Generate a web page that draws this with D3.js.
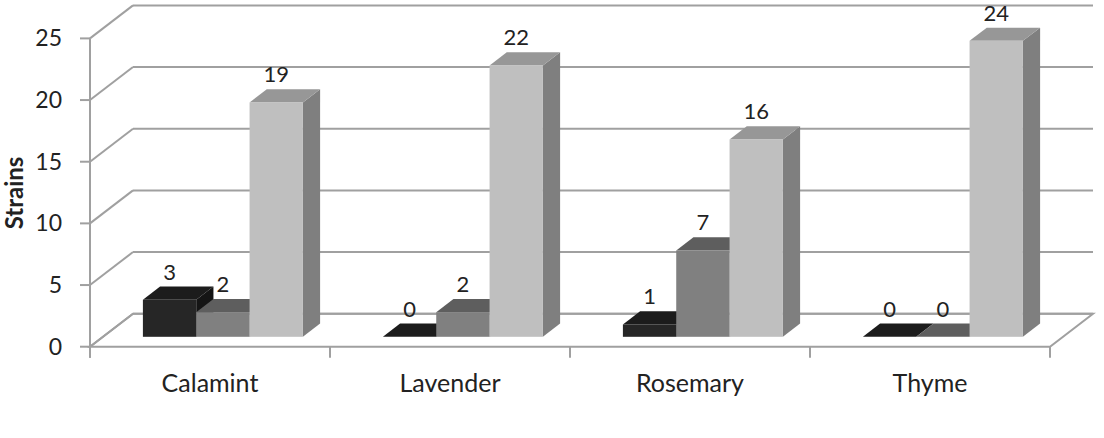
<!DOCTYPE html>
<html>
<head>
<meta charset="utf-8">
<script src="https://cdn.jsdelivr.net/npm/d3@7"></script>
<style>
  body { margin: 0; background: #fff; }
  text { font-family: Lato, "Open Sans", sans-serif; fill: #222; }
</style>
</head>
<body>
<div id="chart"></div>
<script>
// chart data
const categories = ["Calamint", "Lavender", "Rosemary", "Thyme"];
const seriesNames = ["s1", "s2", "s3"];
const series1 = [3, 0, 1, 0];
const series2 = [2, 2, 7, 0];
const series3 = [19, 22, 16, 24];
const yTicks = [0, 5, 10, 15, 20, 25];

const values = [series1, series2, series3];

const width = 1104, height = 438;
const plotLeft = 90, plotRight = 1050, plotBottom = 346.7;
// full depth of the 3d box
const depthX = 43, depthY = -33;
// bars take the middle of the depth
const barFront = 0.3, barBack = 0.7;

// face colours: front, top, side
const colors = [
    { front: "#262626", top: "#1c1c1c", side: "#151515" },
    { front: "#808080", top: "#5e5e5e", side: "#555555" },
    { front: "#bfbfbf", top: "#979797", side: "#7f7f7f" }
];
const gridColor = "#a0a0a0";

let svg = d3.select("#chart")
    .append("svg")
    .attr("width", width)
    .attr("height", height);

let x = d3.scaleBand()
    .domain(categories)
    .range([plotLeft, plotRight]);

// gap width 150% -> 0.75 bar on each side
let xInner = d3.scaleBand()
    .domain(seriesNames)
    .range([x.bandwidth() / 4.5 * 0.75, x.bandwidth() - x.bandwidth() / 4.5 * 0.75]);

let y = d3.scaleLinear()
    .domain([0, 25])
    .range([plotBottom, plotBottom - 308.3]);

const pt = (px, py) => px + "," + py;

// floor
svg.append("polygon")
    .attr("points", [
        pt(plotLeft, plotBottom), pt(plotRight, plotBottom),
        pt(plotRight + depthX, plotBottom + depthY), pt(plotLeft + depthX, plotBottom + depthY)
    ].join(" "))
    .attr("fill", "#fff")
    .attr("stroke", gridColor)
    .attr("stroke-width", 2);

// back wall gridlines and side wall diagonals
let grid = svg.append("g");
yTicks.forEach(function(t) {
    grid.append("line")
        .attr("x1", plotLeft + depthX).attr("x2", plotRight + depthX)
        .attr("y1", y(t) + depthY).attr("y2", y(t) + depthY)
        .attr("stroke", gridColor).attr("stroke-width", 2);
    grid.append("line")
        .attr("x1", plotLeft).attr("x2", plotLeft + depthX)
        .attr("y1", y(t)).attr("y2", y(t) + depthY)
        .attr("stroke", gridColor).attr("stroke-width", 2);
    // tick mark
    grid.append("line")
        .attr("x1", plotLeft - 10).attr("x2", plotLeft)
        .attr("y1", y(t)).attr("y2", y(t))
        .attr("stroke", gridColor).attr("stroke-width", 2);
});

// vertical axis
svg.append("line")
    .attr("x1", plotLeft).attr("x2", plotLeft)
    .attr("y1", y(25)).attr("y2", plotBottom + 11)
    .attr("stroke", gridColor).attr("stroke-width", 2);

// category ticks
x.domain().concat([null]).forEach(function(c) {
    let xp = c === null ? plotRight : x(c);
    svg.append("line")
        .attr("x1", xp).attr("x2", xp)
        .attr("y1", plotBottom).attr("y2", plotBottom + 11)
        .attr("stroke", gridColor).attr("stroke-width", 2);
});

// y tick labels
svg.append("g").selectAll("text")
    .data(yTicks)
    .enter()
    .append("text")
    .attr("x", plotLeft - 28)
    .attr("y", d => y(d))
    .attr("dy", "0.35em")
    .style("text-anchor", "end")
    .style("font-size", "23px")
    .text(d => d);

// category labels
svg.append("g").selectAll("text")
    .data(categories)
    .enter()
    .append("text")
    .attr("x", d => x(d) + x.bandwidth() / 2)
    .attr("y", 392)
    .style("text-anchor", "middle")
    .style("font-size", "25px")
    .text(d => d);

// y title
svg.append("text")
    .attr("transform", "translate(23, 193) rotate(-90)")
    .style("text-anchor", "middle")
    .style("font-size", "24px")
    .style("font-weight", "bold")
    .text("Strains");

// bars, painted left to right
const fx = depthX * barFront, fy = depthY * barFront;
const bx = depthX * barBack, by = depthY * barBack;
const bw = xInner.bandwidth();

let bars = svg.append("g");
let labels = svg.append("g");
categories.forEach(function(cat, ci) {
    seriesNames.forEach(function(s, si) {
        let v = values[si][ci];
        let x0 = x(cat) + xInner(s) + fx;
        let x1 = x0 + bw;
        let yTop = y(v) + fy;
        let yBot = y(0) + fy;
        let ddx = bx - fx, ddy = by - fy;
        let col = colors[si];
        // side face
        if (v > 0) {
            bars.append("polygon")
                .attr("points", [pt(x1, yTop), pt(x1 + ddx, yTop + ddy), pt(x1 + ddx, yBot + ddy), pt(x1, yBot)].join(" "))
                .attr("fill", col.side);
        }
        // top face
        bars.append("polygon")
            .attr("points", [pt(x0, yTop), pt(x1, yTop), pt(x1 + ddx, yTop + ddy), pt(x0 + ddx, yTop + ddy)].join(" "))
            .attr("fill", col.top);
        // front face
        if (v > 0) {
            bars.append("rect")
                .attr("x", x0)
                .attr("y", yTop)
                .attr("width", bw)
                .attr("height", yBot - yTop)
                .attr("fill", col.front);
        }
        labels.append("text")
            .attr("x", x0 + bw / 2)
            .attr("y", yTop - 20)
            .style("text-anchor", "middle")
            .style("font-size", "22px")
            .text(v);
    });
});
</script>
</body>
</html>
